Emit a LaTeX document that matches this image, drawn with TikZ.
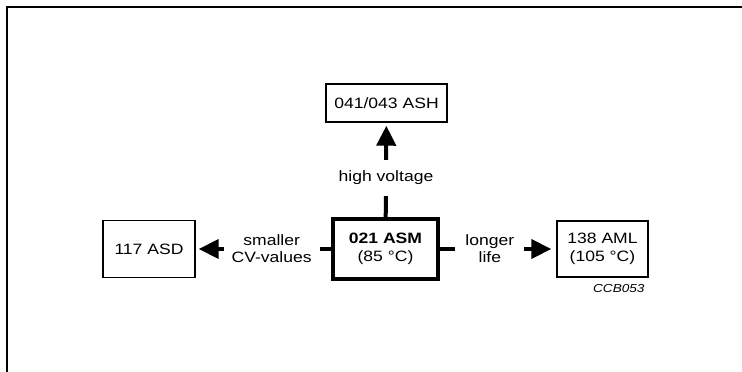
\documentclass[tikz,border=0pt]{standalone}
\usepackage{fontspec}
\setmainfont[FakeStretch=1.17]{Liberation Sans}
\usetikzlibrary{arrows.meta}
\usetikzlibrary{positioning}

\tikzset{
  grade/.style={draw,line width=1.4pt,inner sep=0pt,align=center,font=\fontsize{15}{17.5}\selectfont},
  basegrade/.style={grade,line width=3.4pt},
  route/.style={line width=4pt,-{Triangle[length=20pt,width=19pt]}},
  why/.style={fill=white,inner xsep=8pt,inner ysep=11pt,align=center,font=\fontsize{15}{17}\selectfont}
}

\begin{document}
\begin{tikzpicture}[x=1pt,y=-1pt]
  \useasboundingbox (0,0) rectangle (742,372);
  \draw[line width=2pt] (742,6.5) -- (6.5,6.5) -- (6.5,372);

  \node[basegrade,minimum width=105pt,minimum height=60pt] (asm) at (385.5,249) {\textbf{021 ASM}\\(85 °C)};
  \node[grade,minimum width=121pt,minimum height=38pt] (ash) at (386.5,103) {041/043 ASH};
  \node[grade,minimum width=92pt,minimum height=57pt] (asd) at (149,249) {117 ASD};
  \node[grade,minimum width=91pt,minimum height=56pt] (aml) at (602.5,249) {138 AML\\(105 °C)};

  \node[font=\itshape\fontsize{11.6}{13}\selectfont,anchor=east] (code) at (648,289) {CCB053};

  \draw[route,shorten >=3pt] (asm) -- node[why,pos=0.42]{high voltage} (ash);
  \draw[route,shorten >=3pt] (asm) -- node[why,pos=0.44]{smaller\\CV-values} (asd);
  \draw[route,shorten >=5pt] (asm) -- node[why,pos=0.43,inner xsep=10pt]{longer\\life} (aml);
\end{tikzpicture}
\end{document}
